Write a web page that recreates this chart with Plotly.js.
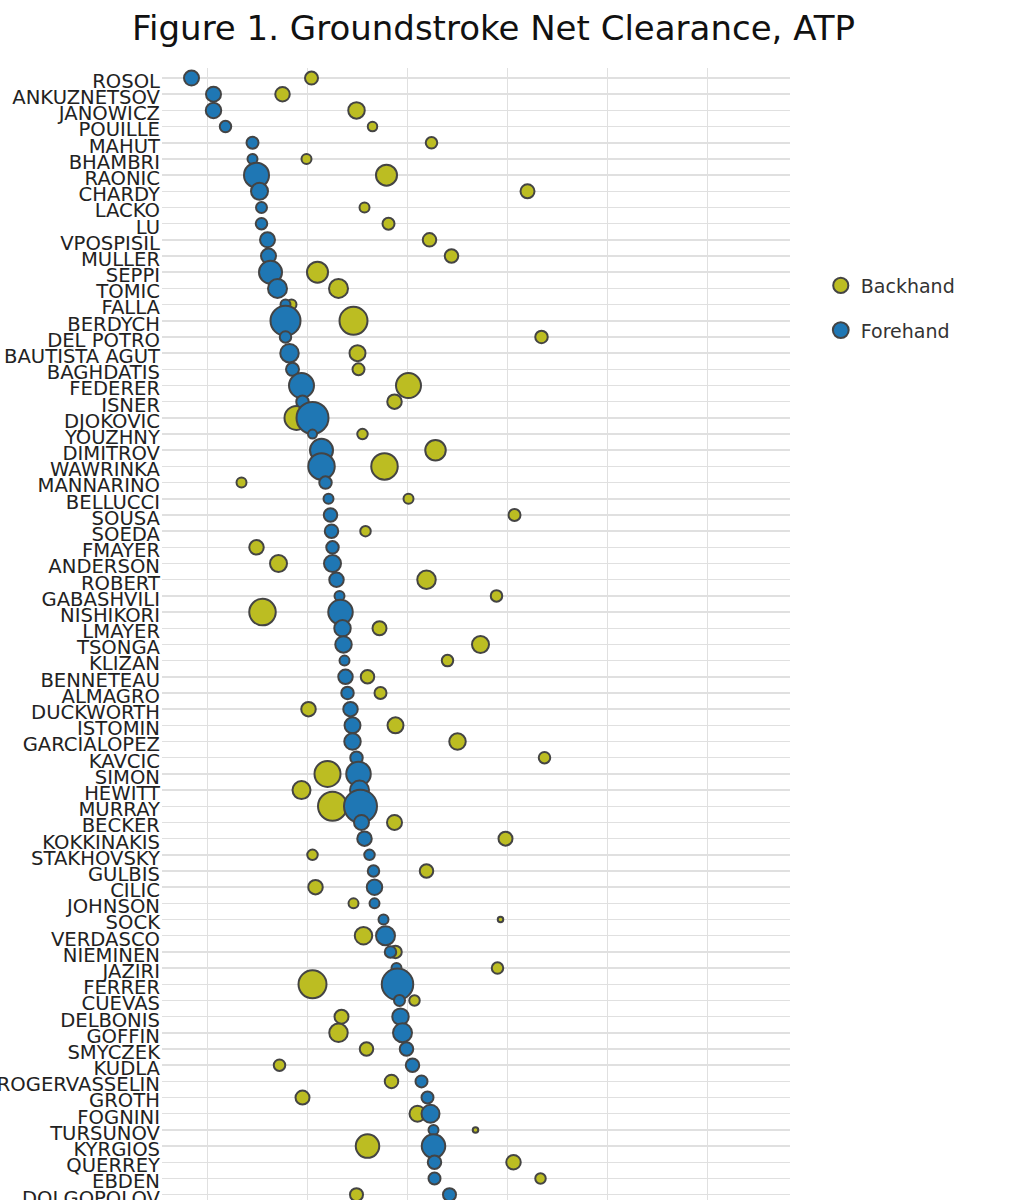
<!DOCTYPE html>
<html>
<head>
<meta charset="utf-8">
<script src="https://cdn.plot.ly/plotly-3.0.1.min.js"></script>
<style>
    html, body { margin: 0; padding: 0; background: #fff; overflow: hidden; }
    #chart { width: 1031px; height: 1200px; }
</style>
</head>
<body>
<div id="chart"></div>
<script>
var players = [
    'ROSOL', 'ANKUZNETSOV', 'JANOWICZ', 'POUILLE', 'MAHUT', 'BHAMBRI', 'RAONIC', 'CHARDY', 'LACKO', 'LU',
    'VPOSPISIL', 'MULLER', 'SEPPI', 'TOMIC', 'FALLA', 'BERDYCH', 'DEL POTRO', 'BAUTISTA AGUT', 'BAGHDATIS', 'FEDERER',
    'ISNER', 'DJOKOVIC', 'YOUZHNY', 'DIMITROV', 'WAWRINKA', 'MANNARINO', 'BELLUCCI', 'SOUSA', 'SOEDA', 'FMAYER',
    'ANDERSON', 'ROBERT', 'GABASHVILI', 'NISHIKORI', 'LMAYER', 'TSONGA', 'KLIZAN', 'BENNETEAU', 'ALMAGRO', 'DUCKWORTH',
    'ISTOMIN', 'GARCIALOPEZ', 'KAVCIC', 'SIMON', 'HEWITT', 'MURRAY', 'BECKER', 'KOKKINAKIS', 'STAKHOVSKY', 'GULBIS',
    'CILIC', 'JOHNSON', 'SOCK', 'VERDASCO', 'NIEMINEN', 'JAZIRI', 'FERRER', 'CUEVAS', 'DELBONIS', 'GOFFIN',
    'SMYCZEK', 'KUDLA', 'ROGERVASSELIN', 'GROTH', 'FOGNINI', 'TURSUNOV', 'KYRGIOS', 'QUERREY', 'EBDEN', 'DOLGOPOLOV'
];

// net clearance, one value per player
var forehand = [
    1.84, 2.06, 2.06, 2.18, 2.45, 2.45, 2.49, 2.52, 2.54, 2.54,
    2.60, 2.61, 2.63, 2.70, 2.78, 2.78, 2.78, 2.82, 2.85, 2.94,
    2.95, 3.05, 3.05, 3.14, 3.14, 3.18, 3.21, 3.23, 3.24, 3.25,
    3.25, 3.29, 3.32, 3.33, 3.35, 3.36, 3.37, 3.38, 3.40, 3.43,
    3.45, 3.45, 3.49, 3.51, 3.52, 3.53, 3.54, 3.57, 3.62, 3.66,
    3.67, 3.67, 3.76, 3.78, 3.83, 3.89, 3.90, 3.92, 3.93, 3.95,
    3.99, 4.05, 4.14, 4.20, 4.23, 4.26, 4.26, 4.27, 4.27, 4.42
];
var backhand = [
    3.04, 2.75, 3.49, 3.65, 4.24, 2.99, 3.79, 5.20, 3.57, 3.81,
    4.22, 4.44, 3.10, 3.31, 2.84, 3.46, 5.34, 3.50, 3.51, 4.01,
    3.87, 2.89, 3.55, 4.28, 3.77, 2.34, 4.01, 5.07, 3.58, 2.49,
    2.71, 4.19, 4.89, 2.55, 3.72, 4.73, 4.40, 3.60, 3.73, 3.01,
    3.88, 4.50, 5.37, 3.20, 2.94, 3.25, 3.87, 4.98, 3.05, 4.19,
    3.08, 3.46, 4.93, 3.56, 3.88, 4.90, 3.05, 4.07, 3.34, 3.31,
    3.59, 2.72, 3.84, 2.95, 4.10, 4.68, 3.60, 5.06, 5.33, 3.49
];

// marker sizes (shot counts, scaled)
var forehandSize = [
    15, 15, 15.5, 11.5, 12, 10, 25, 17, 11, 11.5,
    15, 15, 23, 19, 10, 30, 11.5, 18.5, 13, 25,
    12.5, 32, 9, 23, 26.5, 12.5, 10, 13.5, 13.5, 12.5,
    17, 14.5, 10, 24.5, 16.5, 16.5, 10, 14.5, 12.5, 14.5,
    16, 16.5, 12.5, 24.5, 19, 33, 15, 14.5, 10.5, 11.5,
    15.5, 10, 10, 19, 11.5, 10, 31.5, 11, 16.5, 19,
    13.5, 13.5, 12, 12, 18, 10, 23.5, 13.5, 12, 13
];
var backhandSize = [
    13, 14.5, 16.5, 9.5, 11.5, 10, 21, 14, 10, 12,
    13.5, 13.5, 21, 19, 10, 28, 12.5, 16, 12, 25,
    14.5, 24, 10.5, 20.5, 26.5, 10, 10, 12, 10.5, 14.5,
    17, 18.5, 11.5, 26.5, 14, 17, 11.5, 13.5, 12, 14.5,
    16, 16.5, 11.5, 26, 18, 29, 15, 14, 10.5, 13.5,
    14.5, 10, 5.5, 17.5, 12.5, 11.5, 28, 10.5, 14, 18.5,
    13.5, 11.5, 13.5, 14, 16, 5.5, 23.5, 14.5, 10.5, 13
];

var font = 'DejaVu Sans, sans-serif';

var makeTrace = function (name, x, size, color) {
    return {
        name: name,
        legendgroup: name,
        type: 'scatter',
        mode: 'markers',
        x: x,
        y: players,
        marker: {
            color: color,
            opacity: 1,
            size: size,
            line: { color: '#444', width: 2 }
        }
    };
};

var data = [
    makeTrace('Backhand', backhand, backhandSize, '#bcbd22'),
    makeTrace('Forehand', forehand, forehandSize, '#1f77b4')
];

var layout = {
    width: 1031,
    height: 1200,
    margin: { l: 162, r: 241, t: 68, b: 0, pad: 0 },
    paper_bgcolor: '#fff',
    plot_bgcolor: '#fff',
    font: { family: font, color: '#222' },
    title: {
        text: 'Figure 1. Groundstroke Net Clearance, ATP',
        font: { family: font, size: 34, color: '#111' },
        xref: 'container',
        x: 0.4787,
        xanchor: 'center',
        yref: 'container',
        y: 0.977,
        yanchor: 'middle'
    },
    xaxis: {
        range: [1.545, 7.825],
        tick0: 0,
        dtick: 1,
        showticklabels: false,
        showgrid: true,
        gridcolor: '#e0e0e0',
        gridwidth: 1.5,
        zeroline: false,
        showline: false,
        automargin: false
    },
    yaxis: {
        type: 'category',
        categoryorder: 'array',
        categoryarray: players,
        range: [69.33, -0.62],
        tickmode: 'linear',
        tick0: 0,
        dtick: 1,
        ticklabelstandoff: 1,
        ticklabelshift: -3,
        tickfont: { family: font, size: 19.6, color: '#222' },
        showgrid: true,
        gridcolor: '#e0e0e0',
        gridwidth: 1.5,
        zeroline: false,
        showline: false,
        automargin: false
    },
    showlegend: true,
    legend: {
        x: 1.049,
        xanchor: 'left',
        y: 0.8246,
        yanchor: 'top',
        traceorder: 'grouped',
        tracegroupgap: 17,
        font: { family: font, size: 19, color: '#333' },
        bgcolor: 'rgba(0,0,0,0)'
    }
};

Plotly.newPlot('chart', data, layout, { staticPlot: true });
</script>
</body>
</html>
